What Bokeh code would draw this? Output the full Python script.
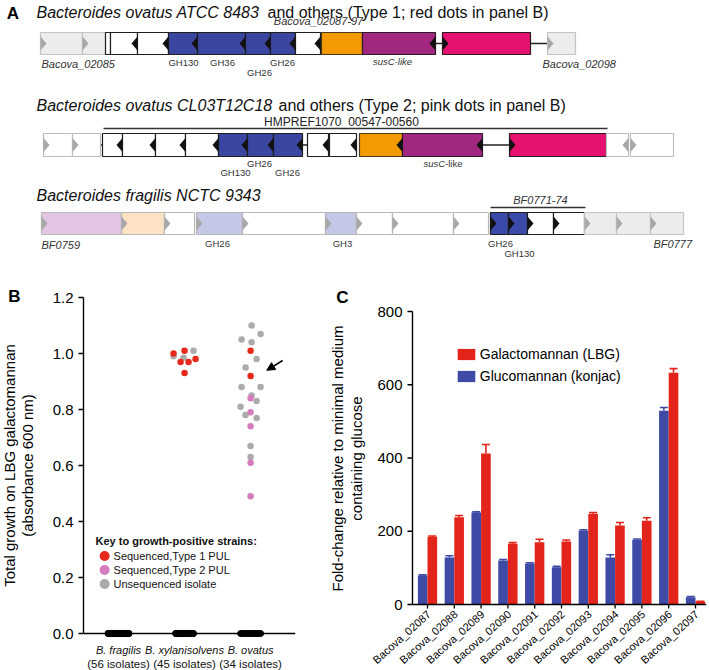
import numpy as np
from bokeh.plotting import figure
from bokeh.layouts import column, row
from bokeh.models import (Range1d, FixedTicker, PrintfTickFormatter, Span,
                          Arrow, NormalHead, Whisker, TeeHead, ColumnDataSource, Legend, LegendItem)
from bokeh.core.properties import value
from bokeh.embed import file_html
from bokeh.resources import INLINE

FONT = "Liberation Sans"

# ---------------- Panel A data (gene maps, positions along locus) ----------------
row1_start = [40, 82, 105, 110, 137, 168, 197, 245, 270, 295, 321, 362, 442, 547]
row1_end = [82, 105, 110, 137, 168, 197, 245, 270, 295, 320, 362, 435, 530, 575]
row1_kind = ["flank", "flank", "pul", "pul", "pul", "gh", "gh", "gh", "gh", "pul", "susd", "susc", "htcs", "flank"]
row1_dir = ["r", "r", "", "L", "L", "L", "L", "L", "L", "L", "", "L", "R", "r"]
row1_links = [(435, 442), (530, 547)]

row2_start = [43, 72, 102, 122, 155, 185, 218, 247, 273, 307, 329, 359, 402, 509, 606, 630]
row2_end = [72, 100, 122, 155, 185, 218, 247, 273, 302, 328, 356, 402, 482, 606, 628, 673]
row2_kind = ["flankw", "flankw", "pul", "pul", "pul", "pul", "gh", "gh", "gh", "pul", "pul",
             "susd", "susc", "htcs", "flankw", "flankw"]
row2_dir = ["r", "r", "L", "L", "L", "L", "L", "L", "L", "L", "L", "L", "L", "R", "l", "r"]
row2_links = [(100, 102), (302, 307), (482, 509)]
row2_bracket = (103, 607)

row3_start = [41, 121, 164, 196, 242, 325, 356, 392, 453, 490, 508, 527, 553, 584, 616, 650]
row3_end = [121, 164, 194, 242, 325, 356, 392, 453, 488, 508, 527, 553, 584, 616, 650, 683]
row3_kind = ["bf_a", "bf_b", "bf_w", "bf_c", "bf_w", "bf_c", "bf_w", "bf_w", "bf_w",
             "gh2", "gh2", "pul", "pul", "flank", "flank", "flank"]
row3_dir = ["r"] * 9 + ["R"] * 4 + ["r"] * 3
row3_links = []
row3_bracket = (490, 585)

# ---------------- Panel B data ----------------
species = ["B. fragilis", "B. xylanisolvens", "B. ovatus"]
isolates = [56, 45, 34]
xyl_growth = [1.00, 1.01, 1.01, 0.99, 0.985, 0.97, 0.97, 0.98, 0.93]
xyl_type = ["T1", "T1", "U", "U", "U", "T1", "T1", "T1", "T1"]
ova_growth = [1.10, 1.07, 1.05, 1.04, 1.01, 0.98, 0.95, 0.92, 0.88, 0.88, 0.85, 0.84, 0.83,
              0.81, 0.79, 0.78, 0.77, 0.74, 0.67, 0.63, 0.61, 0.49]
ova_type = ["U", "U", "U", "U", "T1", "U", "U", "T1", "U", "U", "U", "T2", "U",
            "U", "T2", "U", "U", "T2", "U", "U", "T2", "T2"]
# swarm offsets (pixels)
xyl_off_px = [-11, 0, 9, -11, -1, -4, 4, 11, 0]
ova_off_px = [1, 10, -9, 1, 0, 6, -5, 0, -9, 10, 1, 0, 6, -10, 0, -5, 6, 0, 0, 0, 0, 0]
b_yticks = [0.0, 0.2, 0.4, 0.6, 0.8, 1.0, 1.2]
b_ylabel = ["Total growth on LBG galactomannan", "(absorbance 600 nm)"]

# ---------------- Panel C data ----------------
genes_c = ["Bacova_02087", "Bacova_02088", "Bacova_02089", "Bacova_02090", "Bacova_02091",
           "Bacova_02092", "Bacova_02093", "Bacova_02094", "Bacova_02095", "Bacova_02096",
           "Bacova_02097"]
lbg = [185, 238, 412, 166, 170, 172, 248, 216, 229, 633, 8]
lbg_err = [2, 5, 25, 3, 8, 4, 3, 8, 8, 11, 1]
konjac = [79, 128, 251, 120, 112, 102, 202, 128, 177, 529, 20]
konjac_err = [2, 5, 2, 3, 2, 2, 2, 8, 2, 9, 2]
c_yticks = [0, 200, 400, 600, 800]
c_ylabel = ["Fold-change relative to minimal medium", "containing glucose"]

# ---------------- styles ----------------
KIND_FILL = {"flank": "#ececec", "flankw": "#ffffff", "pul": "#ffffff", "gh": "#3a46a0",
             "gh2": "#3b49a8", "susd": "#f39a00", "susc": "#a2287f", "htcs": "#e5136f",
             "bf_a": "#e2c5e2", "bf_b": "#fde2c3", "bf_c": "#c5c7e6", "bf_w": "#ffffff"}
KIND_LINE = {"flank": "#c4c4c4", "flankw": "#bdbdbd", "pul": "#1e1e1e", "gh": "#1e1e1e",
             "gh2": "#1e1e1e", "susd": "#4a3a20", "susc": "#2a1a2a", "htcs": "#2a1a20",
             "bf_a": "#b8b8b8", "bf_b": "#b8b8b8", "bf_c": "#b8b8b8", "bf_w": "#b8b8b8"}
TYPE_COLOR = {"T1": "#e52a1c", "T2": "#d67bbd", "U": "#ababab"}
RED = "#e3241a"
BLUE = "#3f4aa6"
ROW_Y = [(32, 54), (133, 156), (212, 234)]

BOT_H = 392  # height of the lower row (panels B and C)


def blank_fig(w, h, xr, yr):
    return figure(width=w, height=h, x_range=Range1d(*xr), y_range=Range1d(*yr),
                  output_backend="svg", toolbar_location=None, x_axis_type=None, y_axis_type=None,
                  min_border=0, min_border_left=0, min_border_right=0, min_border_top=0,
                  min_border_bottom=0, outline_line_color=None)


def add_text(p, xs, ys, texts, size, style="normal", align="left", color="#111111", angle=0.0):
    p.text(x=xs, y=ys, text=texts, text_font=value(FONT), text_font_size=size,
           text_font_style=style, text_align=align, text_baseline="middle", text_color=color,
           angle=angle)


# =============== Panel A ===============
pA = blank_fig(709, 278, (0, 709), (278, 0))


def draw_row(p, starts, ends, kinds, dirs, links, bracket, ytop, ybot):
    mid = (ytop + ybot) / 2
    if links:
        p.segment(x0=[a for a, b in links], x1=[b for a, b in links], y0=[mid] * len(links),
                  y1=[mid] * len(links), line_color="#222222", line_width=1.3)
    p.quad(left=starts, right=ends, top=[ytop] * len(starts), bottom=[ybot] * len(starts),
           fill_color=[KIND_FILL[k] for k in kinds], line_color=[KIND_LINE[k] for k in kinds],
           line_width=1.2)
    txs, tys, tcs = [], [], []
    hw, hh = 6, 7
    for s, e, d in zip(starts, ends, dirs):
        if d == "":
            continue
        col = "#111111" if d in "LR" else "#a8a8a8"
        if d in "Ll":
            txs.append([e, e, e - hw]); tys.append([mid - hh, mid + hh, mid])
        else:
            txs.append([s, s, s + hw]); tys.append([mid - hh, mid + hh, mid])
        tcs.append(col)
    p.patches(xs=txs, ys=tys, fill_color=tcs, line_color=None)
    if bracket:
        p.segment(x0=[bracket[0]], x1=[bracket[1]], y0=[ytop - 5], y1=[ytop - 5],
                  line_color="#333333", line_width=1.4)


draw_row(pA, row1_start, row1_end, row1_kind, row1_dir, row1_links, None, *ROW_Y[0])
draw_row(pA, row2_start, row2_end, row2_kind, row2_dir, row2_links, row2_bracket, *ROW_Y[1])
draw_row(pA, row3_start, row3_end, row3_kind, row3_dir, row3_links, row3_bracket, *ROW_Y[2])

add_text(pA, [12.5], [12.5], ["A"], "17px", "bold", "center", "black")
add_text(pA, [36, 36, 36], [12, 105, 195],
         ["Bacteroides ovatus ATCC 8483", "Bacteroides ovatus CL03T12C18",
          "Bacteroides fragilis NCTC 9343"], "16px", "italic")
add_text(pA, [267, 278], [12, 105],
         ["and others (Type 1; red dots in panel B)", "and others (Type 2; pink dots in panel B)"],
         "16px")
add_text(pA, [318, 540], [20, 199], ["Bacova_02087-97", "BF0771-74"], "11px", "italic", "center", "#333333")
add_text(pA, [41, 542, 41, 653], [63, 63, 244, 243],
         ["Bacova_02085", "Bacova_02098", "BF0759", "BF0777"], "11px", "italic", "left", "#333333")
add_text(pA, [341], [121], ["HMPREF1070_00547-00560"], "12px", "normal", "center", "#222222")
add_text(pA, [183, 222, 259, 282, 235, 259, 287, 217, 342, 500, 519],
         [62, 62, 72, 62, 172, 163, 172, 243, 243, 243, 253],
         ["GH130", "GH36", "GH26", "GH26", "GH130", "GH26", "GH26", "GH26", "GH3", "GH26", "GH130"],
         "9.5px", "normal", "center", "#333333")
add_text(pA, [392], [61], ["susC-like"], "9.5px", "italic", "center", "#333333")
add_text(pA, [423], [163], ["susC"], "9.5px", "italic", "left", "#333333")
add_text(pA, [444.6], [163], ["-like"], "9.5px", "normal", "left", "#333333")

# =============== strips with panel letters and y-axis titles ===============
sB = blank_fig(40, BOT_H, (0, 40), (670, 278))
add_text(sB, [14], [296], ["B"], "17px", "bold", "center", "black")
add_text(sB, [9, 27], [465, 465], b_ylabel, "15px", "normal", "center", "black", np.pi / 2)

sC = blank_fig(53, BOT_H, (313, 366), (670, 278))
add_text(sC, [342], [297], ["C"], "17px", "bold", "center", "black")
add_text(sC, [337, 356], [458, 458], c_ylabel, "15px", "normal", "center", "black", np.pi / 2)


def style_yaxis(ax):
    ax.major_label_text_font = FONT
    ax.major_label_text_font_size = "15px"
    ax.major_label_text_color = "black"
    ax.axis_line_color = "black"
    ax.axis_line_width = 1.4
    ax.major_tick_line_color = "black"
    ax.major_tick_line_width = 1.3
    ax.minor_tick_line_color = None
    ax.major_tick_in = 0
    ax.major_tick_out = 5
    ax.major_label_standoff = 5


# =============== Panel B ===============
PXB = 66.0    # pixels per group unit
PYB = 280.0   # pixels per absorbance unit
pB = figure(width=273, height=BOT_H, x_range=Range1d(0.47, 3.68),
            y_range=Range1d(-37 / PYB, 1.2 + 19 / PYB), x_axis_type=None,
            output_backend="svg", toolbar_location=None, min_border_left=43, min_border_right=18,
            min_border_top=0, min_border_bottom=0, outline_line_color=None)
pB.grid.visible = False
yb = pB.yaxis[0]
style_yaxis(yb)
yb.ticker = FixedTicker(ticks=b_yticks)
yb.formatter = PrintfTickFormatter(format="%.1f")
yb.bounds = (0, 1.2)

pB.add_layout(Span(location=0, dimension="width", line_color="black", line_width=1.4))
gx = [1, 2, 3]
pB.text(x=gx, y=[-16 / PYB] * 3, text=species, text_font=value(FONT), text_font_size="11px",
        text_font_style="italic", text_align="center", text_baseline="middle", text_color="#111111")
pB.text(x=gx, y=[-30 / PYB] * 3, text=["(%d isolates)" % n for n in isolates], text_font=value(FONT),
        text_font_size="11.5px", text_align="center", text_baseline="middle", text_color="#111111")

# growth-negative isolates (zero growth) drawn as a dense row on the baseline
n_pos = [0, len(xyl_growth), len(ova_growth)]
zero_half_px = [10.5, 9, 10]
zx = []
for gi, (n, npos, hw) in enumerate(zip(isolates, n_pos, zero_half_px)):
    nz = n - npos
    zx += list(gx[gi] + np.linspace(-hw, hw, nz) / PXB)
pB.scatter(x=zx, y=[0] * len(zx), size=6, fill_color="black", line_color="black")

# growth-positive isolates
pts_x = [2 + o / PXB for o in xyl_off_px] + [3 + o / PXB for o in ova_off_px]
pts_y = xyl_growth + ova_growth
pts_t = xyl_type + ova_type
for t in ["U", "T2", "T1"]:
    idx = [i for i, tt in enumerate(pts_t) if tt == t]
    pB.scatter(x=[pts_x[i] for i in idx], y=[pts_y[i] for i in idx], size=6.5,
               fill_color=TYPE_COLOR[t], line_color=None)

pB.add_layout(Arrow(end=NormalHead(size=8, fill_color="black", line_color="black"),
                    x_start=3.485, y_start=0.975, x_end=3.245, y_end=0.94,
                    line_color="black", line_width=1.5))

# key
key_labels = ["Sequenced,Type 1 PUL", "Sequenced,Type 2 PUL", "Unsequenced isolate"]
key_types = ["T1", "T2", "U"]
key_y = [0.2768, 0.2268, 0.1768]
pB.text(x=[0.652], y=[0.332], text=["Key to growth-positive strains:"], text_font=value(FONT),
        text_font_size="11px", text_font_style="bold", text_baseline="middle", text_color="#111111")
pB.scatter(x=[0.79] * 3, y=key_y, size=10, fill_color=[TYPE_COLOR[t] for t in key_types], line_color=None)
pB.text(x=[0.925] * 3, y=key_y, text=key_labels, text_font=value(FONT), text_font_size="11px",
        text_baseline="middle", text_color="#111111")

# =============== Panel C ===============
PXC = 26.8
PYC = 293.0 / 800.0
C_LEFT = 46                 # px between frame left edge and the value axis
C_W = 343                   # figure width
c_ax = -15 / PXC            # x position of the value axis (left of first category)
c_x0 = c_ax - C_LEFT / PXC
c_x1 = c_x0 + (C_W - 3) / PXC
pC = figure(width=C_W, height=BOT_H, x_range=Range1d(c_x0, c_x1),
            y_range=Range1d(-66 / PYC, 800 + 33 / PYC), x_axis_type=None, y_axis_type=None,
            output_backend="svg", toolbar_location=None, min_border_left=0, min_border_right=3,
            min_border_top=0, min_border_bottom=0, outline_line_color=None)
pC.grid.visible = False
xc = np.arange(len(genes_c))
bw = 0.36
rb = pC.vbar(x=xc - bw / 2, top=konjac, width=bw, fill_color=BLUE, line_color=None)
rr = pC.vbar(x=xc + bw / 2, top=lbg, width=bw, fill_color=RED, line_color=None)

for xs, tops, errs, col in [(xc - bw / 2, konjac, konjac_err, BLUE), (xc + bw / 2, lbg, lbg_err, RED)]:
    src = ColumnDataSource(dict(base=list(xs), lower=list(tops),
                                upper=[t + e for t, e in zip(tops, errs)]))
    pC.add_layout(Whisker(source=src, base="base", lower="lower", upper="upper", dimension="height",
                          upper_head=TeeHead(size=8, line_color=col, line_width=1.6), lower_head=None,
                          line_color=col, line_width=1.6))

# value axis (drawn at the left edge of the category area)
nt = len(c_yticks)
pC.segment(x0=[c_ax], x1=[c_ax], y0=[0], y1=[800], line_color="black", line_width=1.4)
pC.segment(x0=[c_ax - 5 / PXC] * nt, x1=[c_ax] * nt, y0=c_yticks, y1=c_yticks,
           line_color="black", line_width=1.3)
pC.text(x=[c_ax - 10 / PXC] * nt, y=c_yticks, text=[str(v) for v in c_yticks], text_font=value(FONT),
        text_font_size="15px", text_align="right", text_baseline="middle", text_color="black")

# category axis at y = 0
pC.segment(x0=[c_ax], x1=[c_x1], y0=[0], y1=[0], line_color="black", line_width=1.4)
pC.segment(x0=xc, x1=xc, y0=[0] * len(xc), y1=[-4 / PYC] * len(xc), line_color="black", line_width=1.3)
pC.text(x=xc + 1.5 / PXC, y=[-8 / PYC] * len(xc), text=genes_c, text_font=value(FONT),
        text_font_size="11px", text_align="right", text_baseline="middle", angle=0.73,
        text_color="black")

leg = Legend(items=[LegendItem(label="Galactomannan (LBG)", renderers=[rr]),
                    LegendItem(label="Glucomannan (konjac)", renderers=[rb])],
             location=(454.8 - 412 + C_LEFT, 670 - 384.4), padding=0, margin=0, spacing=6,
             glyph_height=14, glyph_width=22, label_height=14, label_standoff=3,
             border_line_color=None, background_fill_alpha=0, label_text_font=FONT,
             label_text_font_size="14px", label_text_color="black")
pC.add_layout(leg)

layout = column(pA, row(sB, pB, sC, pC))
open("out.html", "w").write(file_html(layout, INLINE))
